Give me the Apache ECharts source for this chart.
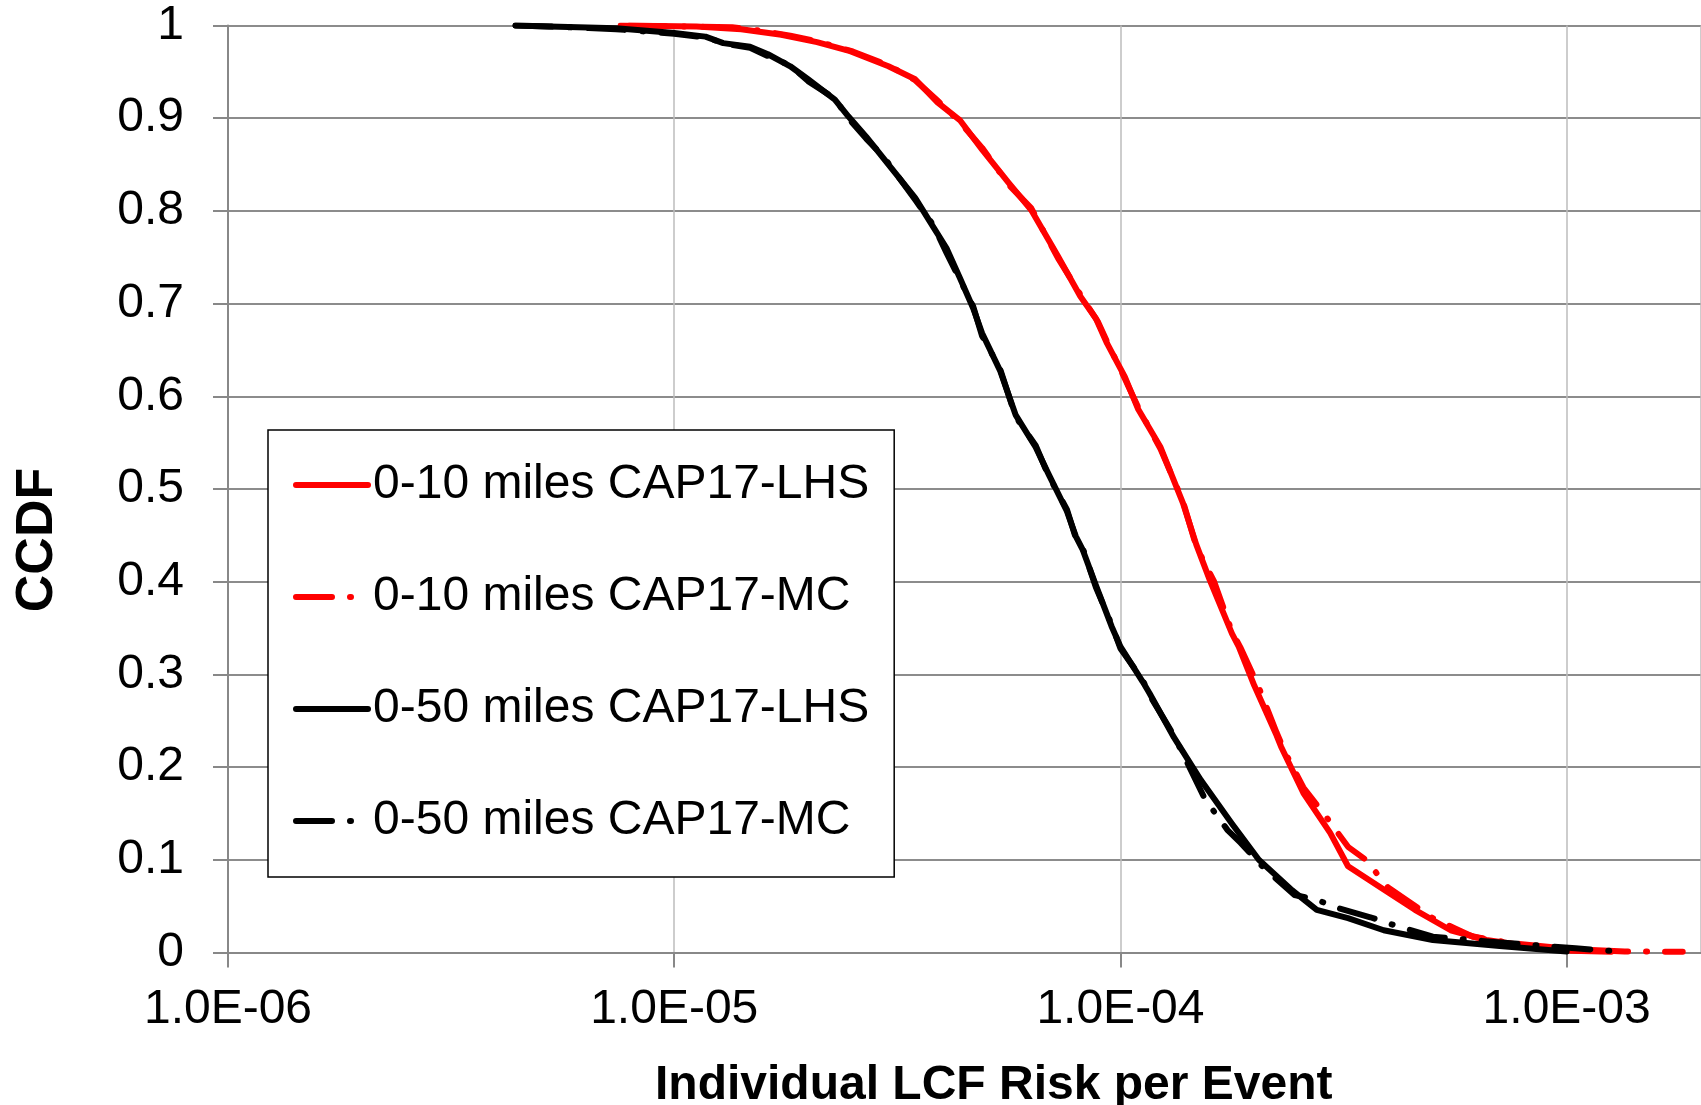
<!DOCTYPE html>
<html><head><meta charset="utf-8">
<script src="https://cdn.jsdelivr.net/npm/echarts@6/dist/echarts.min.js"></script>
<style>html,body{margin:0;padding:0;background:#fff}#c{width:1701px;height:1105px}</style>
</head><body><div id="c"></div>
<script>
// ---- data ----
const seriesNames = ['0-10 miles CAP17-LHS', '0-10 miles CAP17-MC', '0-50 miles CAP17-LHS', '0-50 miles CAP17-MC'];
const xTickLabels = ['1.0E-06', '1.0E-05', '1.0E-04', '1.0E-03'];
const xAxisTitle = 'Individual LCF Risk per Event';
const yAxisTitle = 'CCDF';

const red10LhsX = [7.586e-6, 1.122e-5, 1.413e-5, 1.738e-5, 2.089e-5, 2.455e-5, 3.020e-5, 3.467e-5, 3.890e-5, 4.365e-5,
  4.898e-5, 5.623e-5, 6.310e-5, 7.244e-5, 8.128e-5, 8.810e-5, 9.333e-5, 1.023e-4, 1.096e-4, 1.230e-4,
  1.380e-4, 1.479e-4, 1.585e-4, 1.778e-4, 1.841e-4, 1.995e-4, 2.239e-4, 2.291e-4, 2.570e-4, 2.951e-4,
  3.236e-4, 3.890e-4, 4.571e-4, 5.495e-4, 6.607e-4, 8.318e-4, 1.023e-3, 1.259e-3];
const red10LhsY = [1.000, 0.999, 0.996, 0.990, 0.982, 0.973, 0.956, 0.942, 0.917, 0.898,
  0.866, 0.830, 0.801, 0.751, 0.708, 0.684, 0.657, 0.621, 0.586, 0.545,
  0.485, 0.440, 0.402, 0.344, 0.330, 0.288, 0.234, 0.222, 0.172, 0.129,
  0.093, 0.068, 0.046, 0.024, 0.0135, 0.0065, 0.002, 0.0008];

const red10McX = [7.943e-6, 1.349e-5, 1.585e-5, 1.820e-5, 2.089e-5, 2.512e-5, 3.020e-5, 3.467e-5, 3.890e-5, 4.365e-5,
  4.898e-5, 5.623e-5, 6.310e-5, 7.244e-5, 8.128e-5, 8.913e-5, 9.333e-5, 1.023e-4, 1.096e-4, 1.230e-4,
  1.380e-4, 1.479e-4, 1.622e-4, 1.778e-4, 1.862e-4, 2.042e-4, 2.239e-4, 2.344e-4, 2.570e-4, 2.884e-4,
  3.236e-4, 3.548e-4, 3.981e-4, 4.365e-4, 5.012e-4, 5.623e-4, 6.166e-4, 7.586e-4, 1.000e-3, 1.349e-3, 1.820e-3];
const red10McY = [1.000, 0.998, 0.994, 0.989, 0.983, 0.972, 0.957, 0.941, 0.919, 0.896,
  0.868, 0.828, 0.803, 0.749, 0.710, 0.680, 0.659, 0.619, 0.588, 0.543,
  0.487, 0.438, 0.400, 0.346, 0.328, 0.286, 0.237, 0.215, 0.178, 0.147,
  0.114, 0.100, 0.070, 0.057, 0.037, 0.026, 0.017, 0.010, 0.004, 0.0012, 0.0008];

const black50LhsX = [4.41e-6, 5.25e-6, 7.41e-6, 1.000e-5, 1.175e-5, 1.288e-5, 1.479e-5, 1.622e-5, 1.820e-5, 1.995e-5,
  2.291e-5, 2.455e-5, 2.692e-5, 2.951e-5, 3.467e-5, 3.802e-5, 4.074e-5, 4.365e-5, 4.677e-5, 4.898e-5,
  5.370e-5, 5.821e-5, 6.457e-5, 6.918e-5, 7.586e-5, 7.943e-5, 8.222e-5, 8.810e-5, 9.550e-5, 1.000e-4,
  1.122e-4, 1.161e-4, 1.318e-4, 1.514e-4, 1.778e-4, 2.042e-4, 2.427e-4, 2.754e-4, 3.236e-4, 3.890e-4,
  5.012e-4, 7.079e-4, 1.000e-3];
const black50LhsY = [1.000, 0.999, 0.997, 0.992, 0.988, 0.981, 0.977, 0.969, 0.956, 0.942,
  0.920, 0.902, 0.880, 0.856, 0.814, 0.783, 0.760, 0.728, 0.695, 0.668,
  0.628, 0.580, 0.545, 0.515, 0.476, 0.449, 0.435, 0.396, 0.352, 0.330,
  0.292, 0.280, 0.232, 0.186, 0.139, 0.100, 0.067, 0.046, 0.037, 0.024,
  0.0135, 0.007, 0.001];

const black50McX = [4.41e-6, 5.25e-6, 7.41e-6, 1.000e-5, 1.175e-5, 1.318e-5, 1.479e-5, 1.622e-5, 1.820e-5, 1.995e-5,
  2.291e-5, 2.455e-5, 2.692e-5, 2.951e-5, 3.467e-5, 3.802e-5, 4.074e-5, 4.365e-5, 4.677e-5, 4.898e-5,
  5.370e-5, 5.821e-5, 6.457e-5, 6.918e-5, 7.586e-5, 7.943e-5, 8.222e-5, 8.810e-5, 9.550e-5, 1.000e-4,
  1.122e-4, 1.161e-4, 1.318e-4, 1.549e-4, 1.738e-4, 1.862e-4, 2.089e-4, 2.455e-4, 2.754e-4, 3.020e-4,
  3.631e-4, 4.074e-4, 5.012e-4, 6.761e-4, 9.333e-4, 1.047e-3, 1.318e-3];
const black50McY = [1.000, 0.999, 0.996, 0.991, 0.987, 0.980, 0.976, 0.967, 0.957, 0.940,
  0.921, 0.900, 0.878, 0.858, 0.812, 0.785, 0.755, 0.726, 0.697, 0.665,
  0.630, 0.578, 0.547, 0.513, 0.478, 0.447, 0.437, 0.394, 0.354, 0.328,
  0.294, 0.278, 0.234, 0.165, 0.132, 0.118, 0.092, 0.062, 0.057, 0.049,
  0.038, 0.030, 0.017, 0.0117, 0.0063, 0.0045, 0.001];

// ---- chart ----
const FONT = "'Liberation Sans', Arial, Helvetica, sans-serif";
const LINE_W = 6;
const pairs = (xs, ys) => xs.map((x, i) => [x, ys[i]]);
const minorGrid = [];
for (let e = -6; e <= -4; e++) for (let k = 2; k <= 9; k++) minorGrid.push({ xAxis: k * Math.pow(10, e) });

const MC_DASH = [36, 18, 1, 18];
function lineSeries(name, xs, ys, color, dashed) {
  return {
    name, type: 'line', data: pairs(xs, ys), showSymbol: false, symbol: 'none', z: 3,
    lineStyle: { color, width: LINE_W, type: dashed ? MC_DASH : 'solid', cap: 'round', join: 'round' },
    itemStyle: { color }, animation: false
  };
}

const chart = echarts.init(document.getElementById('c'), null, { renderer: 'canvas' });
chart.setOption({
  backgroundColor: '#fff',
  animation: false,
  grid: { left: 228, top: 25.5, width: 1475, height: 927, containLabel: false },
  title: {
    text: xAxisTitle, left: 655, top: 1062, padding: 0,
    textStyle: { fontSize: 48, fontWeight: 'bold', fontFamily: FONT, color: '#000' }
  },
  graphic: [{
    type: 'text', x: 38, y: 540, rotation: Math.PI / 2,
    style: { text: yAxisTitle, fontSize: 52, fontWeight: 'bold', fontFamily: FONT, fill: '#000', align: 'center', verticalAlign: 'middle' }
  }],
  legend: {
    orient: 'vertical', left: 268, top: 430, data: seriesNames,
    itemWidth: 72, itemHeight: 14, itemGap: 64, padding: [31, 25, 32, 25],
    borderColor: '#000', borderWidth: 1.5, backgroundColor: '#fff', selectedMode: false,
    itemStyle: { opacity: 0, borderWidth: 0 },
    lineStyle: { width: LINE_W, cap: 'round' },
    textStyle: { fontSize: 48, fontFamily: FONT, color: '#000', lineHeight: 48 }
  },
  xAxis: {
    type: 'log', logBase: 10, min: 1e-6, max: 2e-3,
    axisLine: { show: true, onZero: false, lineStyle: { color: '#888', width: 2 } },
    axisTick: { show: true, length: 15, lineStyle: { color: '#888', width: 2 } },
    axisLabel: {
      fontSize: 48, fontFamily: FONT, color: '#000', margin: 33, showMinLabel: true, showMaxLabel: false,
      formatter: v => {
        const e = Math.round(Math.log10(v));
        if (Math.abs(v / Math.pow(10, e) - 1) > 1e-6) return '';
        return xTickLabels[e + 6] || '';
      }
    },
    splitLine: { show: true, lineStyle: { color: '#bcbcbc', width: 1.5 } },
    minorTick: { show: false }, minorSplitLine: { show: false }
  },
  yAxis: {
    type: 'value', min: 0, max: 1, interval: 0.1,
    axisLine: { show: true, lineStyle: { color: '#888', width: 2 } },
    axisTick: { show: true, length: 15, lineStyle: { color: '#888', width: 2 } },
    axisLabel: { fontSize: 48, fontFamily: FONT, color: '#000', margin: 44 },
    splitLine: { show: true, lineStyle: { color: '#8c8c8c', width: 2 } }
  },
  series: [
    {
      name: 'minor-grid', type: 'line', data: [], z: 1, silent: true,
      markLine: {
        silent: true, symbol: ['none', 'none'], animation: false, z: 1,
        label: { show: false },
        lineStyle: { color: '#bcbcbc', width: 1.5, type: 'solid' },
        emphasis: { disabled: true },
        data: minorGrid
      }
    },
    lineSeries(seriesNames[0], red10LhsX, red10LhsY, '#ff0000', false),
    lineSeries(seriesNames[1], red10McX, red10McY, '#ff0000', true),
    lineSeries(seriesNames[2], black50LhsX, black50LhsY, '#000000', false),
    lineSeries(seriesNames[3], black50McX, black50McY, '#000000', true)
  ]
});
</script></body></html>
